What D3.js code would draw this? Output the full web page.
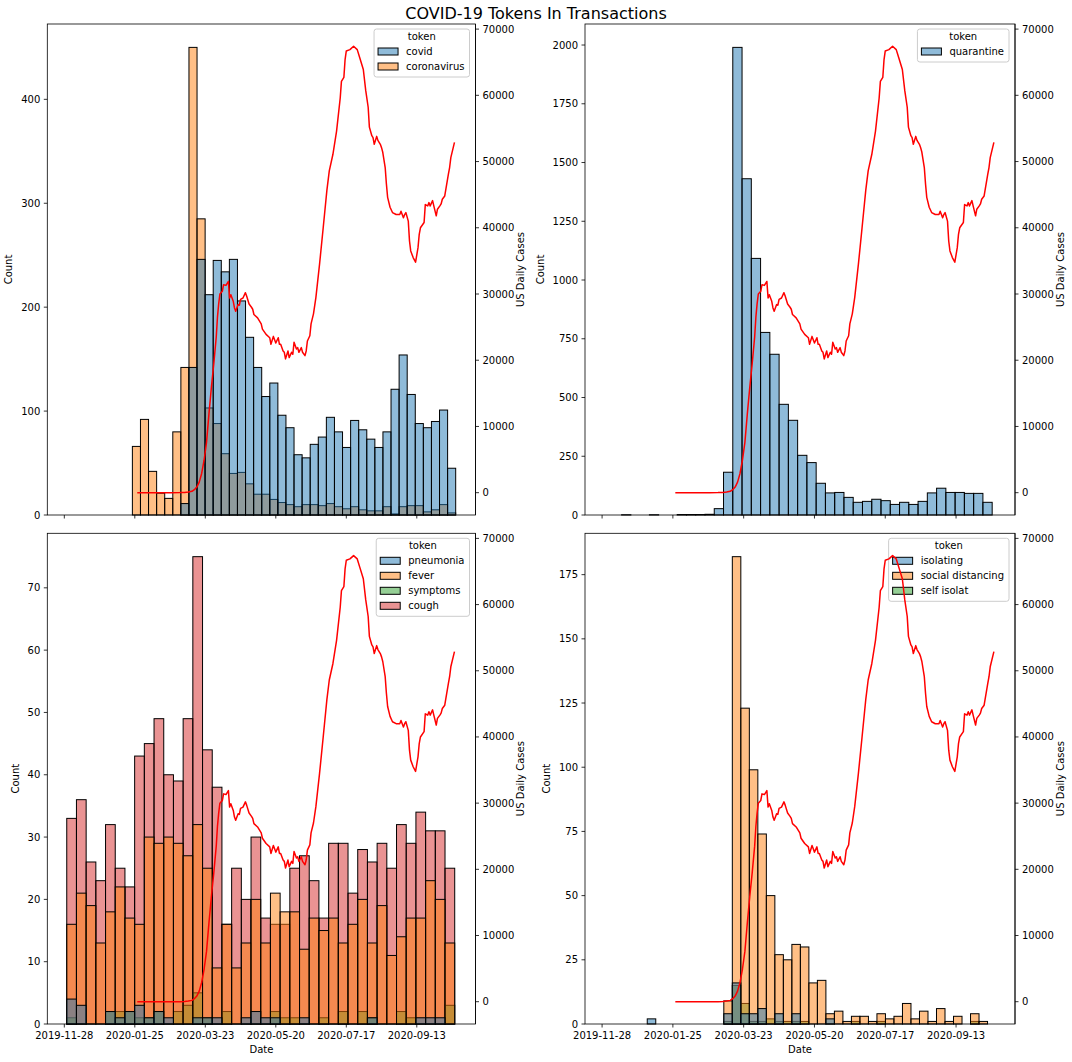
<!DOCTYPE html>
<html><head><meta charset="utf-8">
<script src="https://cdn.jsdelivr.net/npm/d3@7"></script>
<style>body{margin:0;background:#fff}svg{font-family:"DejaVu Sans",sans-serif}</style>
</head><body><svg id="c" width="1072" height="1062"></svg>
<script>
// ---------------- DATA ----------------
const xTickLabels = ["2019-11-28","2020-01-25","2020-03-23","2020-05-20","2020-07-17","2020-09-13"];

// US daily cases (rolling)
const caseDates = ["2020-01-27","2020-02-10","2020-02-24","2020-03-02","2020-03-06","2020-03-09","2020-03-12","2020-03-14","2020-03-16","2020-03-18","2020-03-20","2020-03-22","2020-03-24","2020-03-26","2020-03-28","2020-03-30","2020-04-01","2020-04-02","2020-04-03","2020-04-04","2020-04-06","2020-04-07","2020-04-09","2020-04-11","2020-04-12","2020-04-13","2020-04-15","2020-04-16","2020-04-17","2020-04-19","2020-04-20","2020-04-21","2020-04-23","2020-04-25","2020-04-26","2020-04-28","2020-04-30","2020-05-01","2020-05-02","2020-05-05","2020-05-08","2020-05-09","2020-05-12","2020-05-15","2020-05-16","2020-05-18","2020-05-19","2020-05-20","2020-05-22","2020-05-23","2020-05-24","2020-05-26","2020-05-27","2020-05-28","2020-05-30","2020-05-31","2020-06-02","2020-06-03","2020-06-04","2020-06-06","2020-06-07","2020-06-08","2020-06-10","2020-06-11","2020-06-13","2020-06-14","2020-06-15","2020-06-17","2020-06-18","2020-06-20","2020-06-22","2020-06-25","2020-06-28","2020-07-01","2020-07-03","2020-07-06","2020-07-09","2020-07-12","2020-07-13","2020-07-15","2020-07-16","2020-07-17","2020-07-20","2020-07-23","2020-07-26","2020-07-28","2020-07-31","2020-08-02","2020-08-04","2020-08-05","2020-08-07","2020-08-08","2020-08-09","2020-08-11","2020-08-12","2020-08-14","2020-08-15","2020-08-16","2020-08-18","2020-08-19","2020-08-20","2020-08-22","2020-08-24","2020-08-27","2020-08-30","2020-08-31","2020-09-02","2020-09-03","2020-09-04","2020-09-06","2020-09-07","2020-09-08","2020-09-10","2020-09-12","2020-09-14","2020-09-15","2020-09-16","2020-09-19","2020-09-20","2020-09-22","2020-09-23","2020-09-24","2020-09-26","2020-09-27","2020-09-29","2020-09-30","2020-10-02","2020-10-03","2020-10-04","2020-10-06","2020-10-09","2020-10-10","2020-10-11","2020-10-14"];
const caseValues = [0,1,2,10,40,100,200,450,850,1600,2900,4900,7600,11900,15900,19500,23500,26500,28500,30000,30400,31400,31300,31900,29400,29900,28900,27900,27400,28400,28300,29200,29400,30200,29700,28500,28000,27700,26900,26400,25500,24700,23900,23400,22400,23600,23100,22600,23400,22400,22400,21400,21200,20200,21400,20400,21200,20900,22700,21700,21900,21200,21900,21200,20700,21400,22900,23700,25500,27000,29500,34500,40000,45600,48600,51100,54600,59600,62100,62700,65400,66700,66900,67400,66900,65700,63900,60700,58200,55200,53900,53600,52600,53800,53200,52600,52100,51400,49100,46600,44600,43100,42300,42000,42000,42500,41500,42000,42300,41000,38000,36500,35500,34800,37000,39000,40000,40800,43500,43300,43800,43300,44100,43300,41800,42800,43300,43600,44300,44800,48100,49100,50600,52900];
const caseTicks = [0,10000,20000,30000,40000,50000,60000,70000];

// Panel 1: covid / coronavirus (40 bins)
const binStart1 = "2020-01-23", binDays1 = 6.65;
const covidCounts = [0,0,0,0,0,0,11,142,246,212,245,234,246,206,171,142,114,127,96,84,58,55,68,75,94,80,65,91,82,73,65,80,121,154,116,88,84,90,101,45];
const coronavirusCounts = [66,92,42,21,16,80,142,450,285,103,88,59,40,41,30,20,20,15,12,10,8,10,10,9,11,8,6,8,5,4,4,8,1,8,9,9,3,5,10,2];
const countTicks1 = [0,100,200,300,400];

// Panel 2: quarantine
const binStart2 = "2019-12-14", binDays2 = 7.59;
const quarantineCounts = [1,0,0,1,0,0,2,2,2,3,27,182,1990,1431,1092,777,684,471,403,254,223,135,94,96,75,54,58,67,61,45,54,45,58,94,114,96,96,92,92,54];
const countTicks2 = [0,250,500,750,1000,1250,1500,1750,2000];

// Panel 3: pneumonia / fever / symptoms / cough
const binStart3 = "2019-11-30", binDays3 = 7.98;
const pneumoniaCounts = [4,3,0,0,2,1,2,3,1,2,1,0,0,1,1,1,0,0,1,2,1,1,0,0,1,0,0,0,0,0,0,1,0,0,0,0,1,1,1,0];
const feverCounts = [16,21,19,13,18,22,17,16,30,29,30,29,27,32,25,9,16,9,13,20,13,21,18,18,12,17,15,17,13,16,20,13,19,11,14,17,17,23,20,13];
const symptomsCounts = [1,0,0,0,2,2,2,1,1,2,0,2,3,5,1,0,2,0,0,0,0,2,1,1,0,0,1,0,2,0,2,1,0,0,2,1,0,0,0,3];
const coughCounts = [33,36,26,23,32,25,22,43,45,49,40,39,49,75,44,38,16,25,20,30,17,16,16,25,27,23,17,29,29,21,28,26,29,25,32,29,34,31,31,25];
const countTicks3 = [0,10,20,30,40,50,60,70];

// Panel 4: isolating / social distancing / self isolat
const binStart4 = "2020-01-04", binDays4 = 6.97;
const isolatingCounts = [2,0,0,0,0,0,0,0,0,4,16,4,4,6,0,4,0,4,0,0,0,2,0,0,0,0,0,0,0,0,0,0,0,0,0,0,0,0,0,0];
const socialDistancingCounts = [0,0,0,0,0,0,0,0,0,9,182,123,99,74,50,27,25,31,30,16,17,4,5,1,3,3,1,4,2,3,8,2,5,1,6,1,3,0,4,1];
const selfIsolatCounts = [0,0,0,0,0,0,0,0,0,1,15,8,1,1,2,1,1,1,1,0,0,0,0,0,1,0,0,1,0,0,0,0,0,0,0,0,0,0,1,0];
const countTicks4 = [0,25,50,75,100,125,150,175];

const tokenColors = ["#1f77b4","#ff7f0e","#2ca02c","#d62728"];

// ---------------- LAYOUT ----------------
const parse = d3.utcParse("%Y-%m-%d");
const DAY = 864e5;
const x0 = parse("2019-11-28").getTime();
const xDomain = [new Date(x0 - 14*DAY), new Date(x0 + 338.3*DAY)];

const panels = [
  {box:{l:47.3,r:475.5,t:24,b:515}, start:binStart1, days:binDays1, ticks:countTicks1, xLabels:false,
   series:[{name:"covid",counts:covidCounts},{name:"coronavirus",counts:coronavirusCounts}]},
  {box:{l:585,r:1015,t:24,b:515}, start:binStart2, days:binDays2, ticks:countTicks2, xLabels:false,
   series:[{name:"quarantine",counts:quarantineCounts}]},
  {box:{l:47.3,r:475.5,t:533.3,b:1024}, start:binStart3, days:binDays3, ticks:countTicks3, xLabels:true,
   series:[{name:"pneumonia",counts:pneumoniaCounts},{name:"fever",counts:feverCounts},{name:"symptoms",counts:symptomsCounts},{name:"cough",counts:coughCounts}]},
  {box:{l:585,r:1015,t:533.3,b:1024}, start:binStart4, days:binDays4, ticks:countTicks4, xLabels:true,
   series:[{name:"isolating",counts:isolatingCounts},{name:"social distancing",counts:socialDistancingCounts},{name:"self isolat",counts:selfIsolatCounts}]}
];

const svg = d3.select("#c");
const FS = 10;

svg.append("text").attr("x",536).attr("y",19).attr("text-anchor","middle")
  .attr("font-size",16).text("COVID-19 Tokens In Transactions");

const caseData = caseDates.map((d,i)=>({date:parse(d), v:caseValues[i]}));
const cMin = d3.min(caseValues), cMax = d3.max(caseValues), cR = cMax - cMin;

panels.forEach(p=>{
  const {l,r,t,b} = p.box;
  const g = svg.append("g");
  const x = d3.scaleUtc().domain(xDomain).range([l,r]);
  const maxC = d3.max(p.series, s=>d3.max(s.counts));
  const y = d3.scaleLinear().domain([0, maxC*1.05]).range([b,t]);
  const y2 = d3.scaleLinear().domain([cMin-0.05*cR, cMax+0.05*cR]).range([b,t]);
  const st = parse(p.start).getTime();
  const edge = i => new Date(st + i*p.days*DAY);

  // bars (drawn in reverse hue order, first hue on top)
  for (let si = p.series.length-1; si>=0; si--) {
    const s = p.series[si];
    const bins = s.counts.map((c,i)=>({c,i})).filter(d=>d.c>0);
    g.append("g").selectAll("rect").data(bins).join("rect")
      .attr("x", d=>x(edge(d.i)))
      .attr("width", d=>x(edge(d.i+1))-x(edge(d.i)))
      .attr("y", d=>y(d.c))
      .attr("height", d=>y(0)-y(d.c))
      .attr("fill", tokenColors[si]).attr("fill-opacity",0.5)
      .attr("stroke","#000").attr("stroke-width",1);
  }

  // spines
  g.append("rect").attr("x",l).attr("y",t).attr("width",r-l).attr("height",b-t)
    .attr("fill","none").attr("stroke","#000").attr("stroke-width",0.8);

  // x ticks
  const xt = xTickLabels.map(parse);
  g.append("g").selectAll("line").data(xt).join("line")
    .attr("x1",d=>x(d)).attr("x2",d=>x(d)).attr("y1",b).attr("y2",b+3.5)
    .attr("stroke","#000").attr("stroke-width",0.8);
  if (p.xLabels) {
    g.append("g").selectAll("text").data(xTickLabels).join("text")
      .attr("x",d=>x(parse(d))).attr("y",b+15).attr("text-anchor","middle")
      .attr("font-size",FS).text(d=>d);
    g.append("text").attr("x",(l+r)/2).attr("y",b+29).attr("text-anchor","middle")
      .attr("font-size",FS).text("Date");
  }

  // left y ticks
  g.append("g").selectAll("line").data(p.ticks).join("line")
    .attr("x1",l-3.5).attr("x2",l).attr("y1",d=>y(d)).attr("y2",d=>y(d))
    .attr("stroke","#000").attr("stroke-width",0.8);
  const lt = g.append("g").selectAll("text").data(p.ticks).join("text")
    .attr("x",l-7).attr("y",d=>y(d)).attr("dy","0.35em").attr("text-anchor","end")
    .attr("font-size",FS).text(d=>d);
  let lw = 0; lt.each(function(){lw=Math.max(lw,this.getComputedTextLength());});
  const ylx = l - 7 - lw - 4 - 5;
  g.append("text").attr("transform",`translate(${ylx},${(t+b)/2}) rotate(-90)`)
    .attr("text-anchor","middle").attr("font-size",FS).text("Count");

  // legend
  const lg = g.append("g");
  const lgTop = t + 5;
  const lgH = 18 + 15*p.series.length;
  const texts = p.series.map(s=>s.name);
  const tmp = lg.append("g");
  let tw = 0;
  texts.forEach(s=>{const n=tmp.append("text").attr("font-size",FS).text(s).node(); tw=Math.max(tw,n.getComputedTextLength());});
  tmp.remove();
  const lgW = 32 + tw + 5;
  const lgL = r - 6 - lgW;
  lg.append("rect").attr("x",lgL).attr("y",lgTop).attr("width",lgW).attr("height",lgH).attr("rx",2.5)
    .attr("fill","#fff").attr("fill-opacity",0.8).attr("stroke","#cccccc").attr("stroke-width",1);
  lg.append("text").attr("x",lgL+lgW/2).attr("y",lgTop+11).attr("text-anchor","middle")
    .attr("font-size",FS).text("token");
  p.series.forEach((s,i)=>{
    const cy = lgTop + 22.5 + 15*i;
    lg.append("rect").attr("x",lgL+4).attr("y",cy-3.5).attr("width",20).attr("height",7)
      .attr("fill",tokenColors[i]).attr("fill-opacity",0.5).attr("stroke","#000").attr("stroke-width",1);
    lg.append("text").attr("x",lgL+32).attr("y",cy).attr("dy","0.35em").attr("font-size",FS).text(s.name);
  });

  // twin axis: cases line
  const line = d3.line().x(d=>x(d.date)).y(d=>y2(d.v));
  g.append("path").datum(caseData).attr("d",line).attr("fill","none")
    .attr("stroke","#ff0000").attr("stroke-width",1.5).attr("stroke-linejoin","round");
  g.append("line").attr("x1",r).attr("x2",r).attr("y1",t).attr("y2",b).attr("stroke","#000").attr("stroke-width",0.8);
  g.append("g").selectAll("line").data(caseTicks).join("line")
    .attr("x1",r).attr("x2",r+3.5).attr("y1",d=>y2(d)).attr("y2",d=>y2(d))
    .attr("stroke","#000").attr("stroke-width",0.8);
  const rt = g.append("g").selectAll("text").data(caseTicks).join("text")
    .attr("x",r+7).attr("y",d=>y2(d)).attr("dy","0.35em").attr("font-size",FS).text(d=>d);
  let rw = 0; rt.each(function(){rw=Math.max(rw,this.getComputedTextLength());});
  const yrx = r + 7 + rw + 4 + 6;
  g.append("text").attr("transform",`translate(${yrx},${(t+b)/2}) rotate(-90)`)
    .attr("text-anchor","middle").attr("font-size",FS).text("US Daily Cases");
});
</script></body></html>
